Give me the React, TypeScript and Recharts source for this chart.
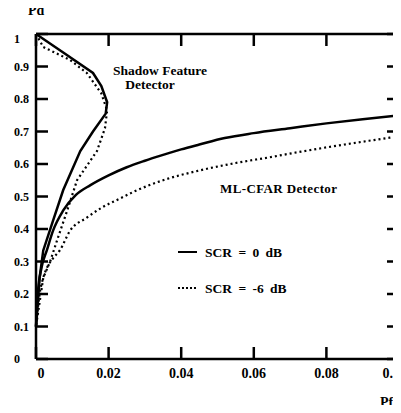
import { LineChart, Line, XAxis, YAxis } from 'recharts';

// Pfa / Pd points
const shadow0dB: [number, number][] = [
  [0, 1], [0.0075, 0.943], [0.0157, 0.88], [0.018, 0.84], [0.0196, 0.79], [0.0192, 0.755],
  [0.0157, 0.7], [0.0122, 0.64], [0.0075, 0.52], [0.0047, 0.426], [0.002, 0.334],
  [0.001, 0.25], [0, 0.1],
];
const shadowMinus6dB: [number, number][] = [
  [0, 1], [0.002, 0.96], [0.0094, 0.92], [0.014, 0.88], [0.018, 0.817], [0.0196, 0.765],
  [0.019, 0.71], [0.0168, 0.64], [0.0113, 0.55], [0.0086, 0.457], [0.0058, 0.365],
  [0.0039, 0.3], [0.002, 0.25], [0, 0.1],
];
const mlcfar0dB: [number, number][] = [
  [0, 0.1], [0.0005, 0.2], [0.0015, 0.28], [0.003, 0.335], [0.0047, 0.395], [0.0075, 0.457],
  [0.011, 0.505], [0.015, 0.535], [0.02, 0.565], [0.025, 0.59], [0.03, 0.61], [0.035, 0.628],
  [0.04, 0.645], [0.045, 0.66], [0.052, 0.68], [0.06, 0.695], [0.07, 0.71], [0.08, 0.725],
  [0.09, 0.738], [0.1, 0.75],
];
const mlcfarMinus6dB: [number, number][] = [
  [0, 0.1], [0.001, 0.2], [0.002, 0.25], [0.003, 0.28], [0.0047, 0.31], [0.0066, 0.335],
  [0.0094, 0.395], [0.014, 0.435], [0.018, 0.465], [0.023, 0.493], [0.027, 0.515],
  [0.035, 0.55], [0.045, 0.58], [0.055, 0.603], [0.064, 0.62], [0.073, 0.638],
  [0.085, 0.66], [0.1, 0.685],
];

const pfaTicks = [0, 0.02, 0.04, 0.06, 0.08, 0.1];
const pfaLabels = ['0', '0.02', '0.04', '0.06', '0.08', '0.1'];
const pdTicks = [0, 0.1, 0.2, 0.3, 0.4, 0.5, 0.6, 0.7, 0.8, 0.9, 1];
const pdLabels = ['0', '0.1', '0.2', '0.3', '0.4', '0.5', '0.6', '0.7', '0.8', '0.9', '1'];

const FONT = '"Liberation Serif", "Times New Roman", serif';
const W = 401;
const H = 413;

const toPoints = (pts: [number, number][]) => pts.map(([x, y]) => ({ x, y }));

const xTick = ({ x, payload }: any) => {
  const i = pfaTicks.indexOf(payload.value);
  const last = i === pfaTicks.length - 1;
  return (
    <text x={i === 0 ? x + 5 : last ? 400 : x} y={378} textAnchor={last ? 'end' : 'middle'}
      fontFamily={FONT} fontWeight="bold" fontSize={14} fill="#000">
      {pfaLabels[i]}
    </text>
  );
};

const yTick = ({ y, payload }: any) => {
  const i = pdTicks.indexOf(payload.value);
  return (
    <text x={14} y={y + 4 + (i === pdTicks.length - 1 ? 5 : 0)} textAnchor="start"
      fontFamily={FONT} fontWeight="bold" fontSize={12} fill="#000">
      {pdLabels[i]}
    </text>
  );
};

const blankTick = () => <text />;

export default function App() {
  return (
    <div style={{ position: 'relative', margin: -8, width: W, height: H }}>
      <LineChart width={W} height={H} margin={{ top: 34, right: 2, bottom: 0, left: 0 }}>
        <XAxis xAxisId="b" type="number" dataKey="x" domain={[0, 0.1]} ticks={pfaTicks}
          height={54} stroke="#000" strokeWidth={2.5} tickSize={-12} tick={xTick} />
        <XAxis xAxisId="t" orientation="top" type="number" dataKey="x" domain={[0, 0.1]}
          ticks={pfaTicks} mirror stroke="#000" strokeWidth={2.5} tickSize={12} tick={blankTick} />
        <YAxis yAxisId="l" type="number" domain={[0, 1]} ticks={pdTicks} width={36}
          stroke="#000" strokeWidth={2.5} tickSize={-12} tick={yTick} />
        <YAxis yAxisId="r" orientation="right" type="number" domain={[0, 1]} ticks={pdTicks}
          mirror stroke="#000" strokeWidth={2.5} tickSize={12} tick={blankTick} />
        <Line xAxisId="b" yAxisId="l" data={toPoints(shadow0dB)} dataKey="y" type="linear"
          stroke="#000" strokeWidth={2.5} dot={false} isAnimationActive={false} />
        <Line xAxisId="t" yAxisId="r" data={toPoints(shadowMinus6dB)} dataKey="y" type="linear"
          stroke="#000" strokeWidth={2.2} strokeDasharray="2 3" dot={false} isAnimationActive={false} />
        <Line xAxisId="b" yAxisId="l" data={toPoints(mlcfar0dB)} dataKey="y" type="monotone"
          stroke="#000" strokeWidth={2.5} dot={false} isAnimationActive={false} />
        <Line xAxisId="t" yAxisId="r" data={toPoints(mlcfarMinus6dB)} dataKey="y" type="monotone"
          stroke="#000" strokeWidth={2.2} strokeDasharray="2 3" dot={false} isAnimationActive={false} />
      </LineChart>
      <svg width={W} height={H} style={{ position: 'absolute', left: 0, top: 0, pointerEvents: 'none' }}
        fontFamily={FONT} fontWeight="bold" fill="#000">
        <text x={28} y={15} fontSize={14}>Pd</text>
        <text x={380} y={407} fontSize={14}>Pfa</text>
        <text x={160} y={75} fontSize={13.5} textAnchor="middle">Shadow Feature</text>
        <text x={150} y={89} fontSize={13.5} textAnchor="middle">Detector</text>
        <text x={220} y={193} fontSize={13} textLength={117}>ML-CFAR Detector</text>
        <line x1={178} x2={197} y1={252} y2={252} stroke="#000" strokeWidth={2} />
        <text x={205} y={257} fontSize={13.5} wordSpacing={3}>SCR = 0 dB</text>
        <line x1={178} x2={197} y1={288} y2={288} stroke="#000" strokeWidth={2} strokeDasharray="2 2" />
        <text x={205} y={293} fontSize={13.5} wordSpacing={3}>SCR = -6 dB</text>
      </svg>
    </div>
  );
}
